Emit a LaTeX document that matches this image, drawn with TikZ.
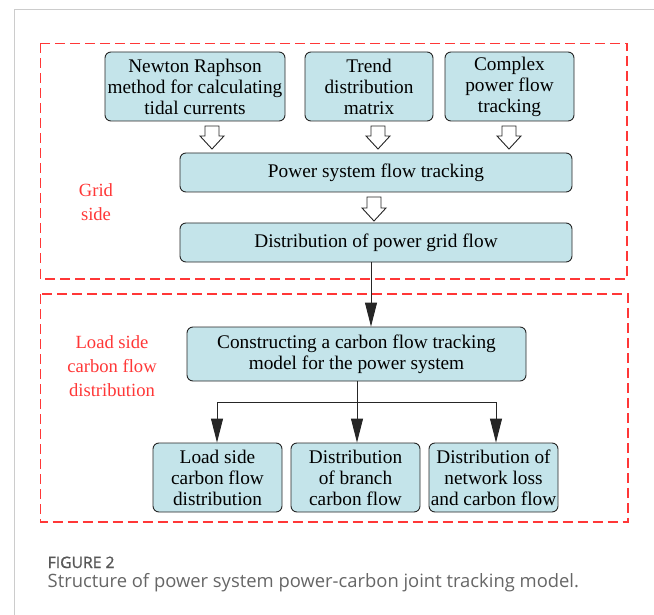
\documentclass[tikz,border=0pt]{standalone}
\usepackage{fontspec}
\setmainfont{Liberation Serif}
\newfontfamily\capfont{Open Sans}
\newfontfamily\capbold{Open Sans}[FakeBold=1.2]
\usetikzlibrary{arrows.meta,calc}
\definecolor{boxfill}{HTML}{C4E4EA}
\definecolor{redline}{RGB}{255,55,55}
\definecolor{framegray}{HTML}{CCCCCC}
\definecolor{capgray}{HTML}{666666}
\tikzset{
  box/.style={draw=black!85,fill=boxfill,rounded corners=6pt,line width=0.9pt,align=center,
    inner sep=0pt,font=\fontsize{19.3}{21}\selectfont},
  region/.style={draw=redline,line width=1.4pt,dash pattern=on 10pt off 5pt},
  redlabel/.style={text=redline,align=center,font=\fontsize{18.6}{24}\selectfont},
  hollow/.style={draw=black!85,fill=white,line width=0.9pt,line join=miter},
  arr/.style={draw=black!85,line width=0.9pt,-{Triangle[length=24pt,width=12pt]}},
  plain/.style={draw=black!85,line width=0.9pt},
}
\newcommand{\hollowarrow}[3]{% x, top y, bottom y
  \draw[hollow] (#1-7,#2) -- (#1+7,#2) -- (#1+7,#3-13) -- (#1+12,#3-13) -- (#1,#3)
    -- (#1-12,#3-13) -- (#1-7,#3-13) -- cycle;}
\begin{document}
\begin{tikzpicture}[x=1pt,y=-1pt]
\useasboundingbox (0,0) rectangle (654,615);
% page frame
\draw[framegray,line width=1.2pt] (14.5,615) -- (14.5,9.5) -- (654,9.5);
% regions
\draw[region] (40.5,43.5) rectangle (627,279);
\draw[region] (40.5,294) rectangle (628,522);
% top boxes
\node[box,minimum width=180pt,minimum height=69pt] (newton) at (195,86.5)
  {Newton Raphson\\method for calculating\\tidal currents};
\node[box,minimum width=128pt,minimum height=69pt] (trend) at (369,86.5)
  {Trend\\distribution\\matrix};
\node[box,minimum width=129pt,minimum height=69pt] (complex) at (509.5,86.5)
  {Complex\\power flow\\tracking};
\node[box,minimum width=392pt,minimum height=39pt] (power) at (376,172.5)
  {Power system flow tracking};
\node[box,minimum width=392pt,minimum height=39pt] (grid) at (376,242.5)
  {Distribution of power grid flow};
\node[box,minimum width=339pt,minimum height=54pt] (constr) at (356.5,354)
  {Constructing a carbon flow tracking\\model for the power system};
\node[box,minimum width=129pt,minimum height=69pt] (load) at (217.5,477.5)
  {Load side\\carbon flow\\distribution};
\node[box,minimum width=129pt,minimum height=69pt] (branch) at (355.5,477.5)
  {Distribution\\of branch\\carbon flow};
\node[box,minimum width=129pt,minimum height=69pt] (loss) at (493.5,477.5)
  {Distribution of\\network loss\\and carbon flow};
% labels
\node[redlabel] (gridlab) at (96,202) {Grid\\side};
\node[redlabel] (loadlab) at (112,366) {Load side\\carbon flow\\distribution};
% hollow arrows
\hollowarrow{212}{126}{149}
\hollowarrow{378}{126}{149}
\hollowarrow{509}{126}{149}
\hollowarrow{374}{197}{221}
% black connectors
\coordinate (c1) at (371,0);
\draw[arr] (grid.south -| c1) -- (constr.north -| c1);
\coordinate (j) at (357,402);
\coordinate (jl) at (217,402);
\coordinate (jr) at (496,402);
\draw[plain] (constr.south -| j) -- (j);
\draw[plain] (jl) -- (jr);
\draw[arr] (jl) -- (load.north -| jl);
\draw[arr] (j) -- (branch.north -| j);
\draw[arr] (jr) -- (loss.north -| jr);
% caption
\node[anchor=base west,inner sep=0pt,text=capgray!85!black,font=\capbold\fontsize{15.7}{18}\selectfont] (figlab) at (47.5,568) {FIGURE 2};
\node[anchor=base west,inner sep=0pt,text=capgray,font=\capfont\fontsize{18.4}{21}\selectfont] (caption) at (47.5,587) {Structure of power system power-carbon joint tracking model.};
\end{tikzpicture}
\end{document}
